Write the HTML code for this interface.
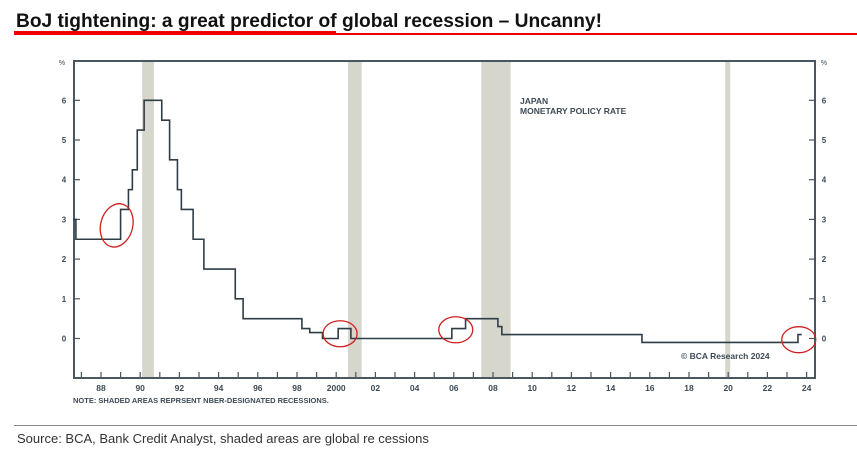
<!DOCTYPE html>
<html><head><meta charset="utf-8"><style>
body{margin:0;background:#fff;width:857px;height:466px;overflow:hidden;font-family:"Liberation Sans",sans-serif}
</style></head><body>
<svg id="chart" width="857" height="466" viewBox="0 0 857 466" xmlns="http://www.w3.org/2000/svg">
<text x="16" y="27" font-family="Liberation Sans Narrow, Liberation Sans, sans-serif" font-weight="bold" font-size="19" fill="#111" textLength="586" lengthAdjust="spacingAndGlyphs">BoJ tightening: a great predictor of global recession – Uncanny!</text>
<rect x="14" y="31" width="322" height="4" fill="#e00"/>
<rect x="336" y="33" width="521" height="2" fill="#e00"/>
<g id="rec"></g>
<g id="axes" fill="#3d4a55" stroke="#4a5660"></g>
<path id="line" fill="none" stroke="#2f3e46" stroke-width="1.6"/>
<g id="circles" fill="none" stroke="#d02020" stroke-width="1.3"></g>
<text x="520" y="104" font-size="8.5" font-weight="bold" fill="#3d4a55">JAPAN</text>
<text x="520" y="114" font-size="8.5" font-weight="bold" fill="#3d4a55">MONETARY POLICY RATE</text>
<text x="681" y="359" font-size="8.5" font-weight="bold" fill="#3d4a55">© BCA Research 2024</text>
<text x="73" y="403" font-size="7.5" font-weight="bold" fill="#3d4a55">NOTE: SHADED AREAS REPRSENT NBER-DESIGNATED RECESSIONS.</text>
<rect x="14" y="425" width="843" height="1" fill="#888"/>
<text x="17" y="443" font-size="13" fill="#333">Source: BCA, Bank Credit Analyst, shaded areas are global re cessions</text>
</svg>
<script>
const rateYears=[1986.6,1986.72,1989.0,1989.4,1989.6,1989.85,1990.2,1991.1,1991.5,1991.9,1992.1,1992.7,1993.25,1994.85,1995.25,1998.25,1998.65,1999.3,2000.1,2000.75,2005.9,2006.6,2008.25,2008.45,2015.6,2023.56,2023.7];
const rateValues=[3.0,2.5,3.25,3.75,4.25,5.25,6.0,5.5,4.5,3.75,3.25,2.5,1.75,1.0,0.5,0.25,0.15,0.0,0.25,0.0,0.25,0.5,0.3,0.1,-0.1,0.1,0.1];
const recessionStarts=[1990.1,2000.6,2007.4,2019.85];
const recessionEnds=[1990.7,2001.3,2008.9,2020.1];
const yTicks=[0,1,2,3,4,5,6];
const xLabelYears=[1988,1990,1992,1994,1996,1998,2000,2002,2004,2006,2008,2010,2012,2014,2016,2018,2020,2022,2024];
const xLabels=["88","90","92","94","96","98","2000","02","04","06","08","10","12","14","16","18","20","22","24"];
const circleYears=[1988.8,2000.2,2006.1,2023.6];
const circleValues=[2.85,0.12,0.22,-0.03];

const L=74,R=815,T=61,B=378;
const x=y=>101+(y-1988)*19.6;
const yv=v=>338.5-39.7*v;
const NS="http://www.w3.org/2000/svg";
function mk(tag,parent,attrs){const e=document.createElementNS(NS,tag);for(const k in attrs)e.setAttribute(k,attrs[k]);parent.appendChild(e);return e;}
const rec=document.getElementById('rec'),ax=document.getElementById('axes'),circ=document.getElementById('circles');
recessionStarts.forEach((s,i)=>{
 const r=mk('rect',rec,{x:x(s),y:T,width:x(recessionEnds[i])-x(s),height:B-T,fill:'#d6d6cc'});
 
 
});
const frame=mk('path',ax,{d:`M${L} ${T+8}V${T}H${R}V${B}H${L}V${T+8}`,fill:'none','stroke-width':2});


yTicks.forEach(v=>{
 mk('line',ax,{x1:L,x2:L+6,y1:yv(v),y2:yv(v),'stroke-width':1.2});
 mk('line',ax,{x1:R-6,x2:R,y1:yv(v),y2:yv(v),'stroke-width':1.2});
 const a=mk('text',ax,{x:64,y:yv(v)+3,'font-size':8,'font-weight':'bold',stroke:'none','text-anchor':'middle'});a.textContent=v;
 
 
 const b=mk('text',ax,{x:824,y:yv(v)+3,'font-size':8,'font-weight':'bold',stroke:'none','text-anchor':'middle'});b.textContent=v;
 
 
});
[[62,'%'],[824,'%']].forEach(p=>{const t=mk('text',ax,{x:p[0],y:65,'font-size':7,stroke:'none','text-anchor':'middle'});t.textContent=p[1];
 
 });
for(let yr=1987;yr<=2024;yr++){mk('line',ax,{x1:x(yr),x2:x(yr),y1:B-6,y2:B,'stroke-width':1.2});}
xLabelYears.forEach((yr,i)=>{const t=mk('text',ax,{x:x(yr),y:391,'font-size':8.5,'font-weight':'bold',stroke:'none','text-anchor':'middle'});t.textContent=xLabels[i];
 
 });
let d=`M${x(rateYears[0])} ${yv(rateValues[0])}`;
for(let i=1;i<rateYears.length;i++){d+=`H${x(rateYears[i])}V${yv(rateValues[i])}`;}
d+=`H${x(2023.75)}`;
document.getElementById('line').setAttribute('d',d);
circleYears.forEach((c,i)=>{const e=mk('ellipse',circ,{cx:x(c),cy:yv(circleValues[i]),rx:i==0?16:17,ry:i==0?22:13,transform:i==0?`rotate(15 ${x(c)} ${yv(circleValues[i])})`:''});
 
 });
</script>
</body></html>
